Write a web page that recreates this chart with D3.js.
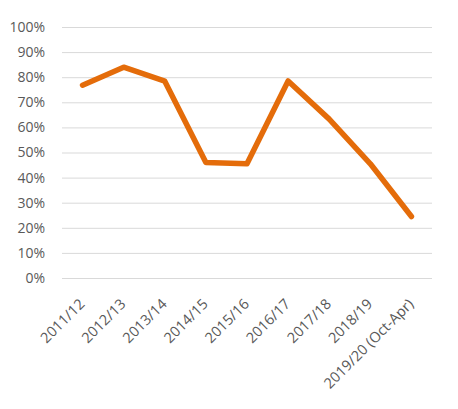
<!DOCTYPE html>
<html>
<head>
<meta charset="utf-8">
<script src="https://cdn.jsdelivr.net/npm/d3@7"></script>
<style>
  body { margin: 0; background: #fff; }
  svg text { font-family: "Open Sans", sans-serif; fill: #595959; }
</style>
</head>
<body>
<div id="chart"></div>
<script>
// categories and values
const years = ["2011/12", "2012/13", "2013/14", "2014/15", "2015/16",
               "2016/17", "2017/18", "2018/19", "2019/20 (Oct-Apr)"];
const share = [0.768, 0.84, 0.784, 0.46, 0.455, 0.785, 0.633, 0.455, 0.245];
const yTicks = [0, 0.1, 0.2, 0.3, 0.4, 0.5, 0.6, 0.7, 0.8, 0.9, 1.0];

const width = 458, height = 409;
const margin = {top: 27, right: 26, bottom: 131, left: 62};

const svg = d3.select("#chart").append("svg")
    .attr("width", width)
    .attr("height", height);

// x is a band scale, points sit in the middle of each band
const x = d3.scaleBand()
    .domain(years)
    .range([margin.left, width - margin.right]);

const y = d3.scaleLinear()
    .domain([0, 1])
    .range([height - margin.bottom, margin.top]);

// horizontal gridlines + y labels
const yAxis = svg.append("g")
    .attr("transform", `translate(${margin.left},0)`)
    .call(d3.axisLeft(y)
        .tickValues(yTicks)
        .tickFormat(d3.format(".0%"))
        .tickSize(-(width - margin.left - margin.right))
        .tickPadding(17));
yAxis.select(".domain").remove();
yAxis.selectAll("line").attr("stroke", "#d9d9d9").attr("stroke-width", 1);
yAxis.selectAll("text").style("font-size", "14px");

// x labels, rotated 45 degrees
const xAxis = svg.append("g")
    .attr("transform", `translate(0,${height - margin.bottom})`)
    .call(d3.axisBottom(x).tickSize(0).tickPadding(0));
xAxis.select(".domain").remove();
xAxis.selectAll("text")
    .style("font-size", "14.5px")
    .attr("text-anchor", "end")
    .attr("dy", 0)
    .attr("transform", "translate(3,27) rotate(-45)");

// the orange line
const line = d3.line()
    .x((d, i) => x(years[i]) + x.bandwidth() / 2)
    .y(d => y(d));

svg.append("path")
    .datum(share)
    .attr("d", line)
    .attr("fill", "none")
    .attr("stroke", "#e46c0a")
    .attr("stroke-width", 5.5)
    .attr("stroke-linejoin", "round")
    .attr("stroke-linecap", "round");
</script>
</body>
</html>
